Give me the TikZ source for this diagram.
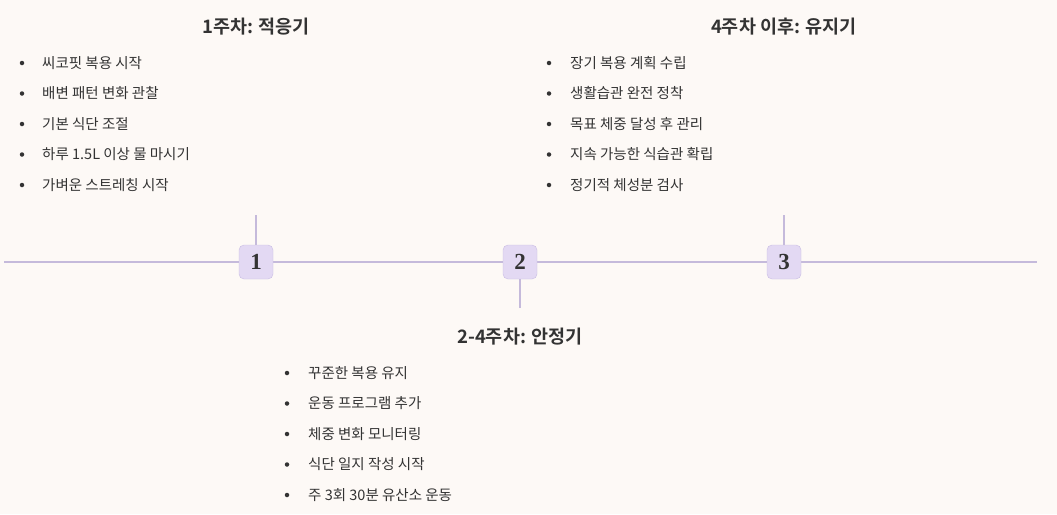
\documentclass[tikz,border=0pt]{standalone}
\usepackage{fontspec}
\newfontfamily\kr{Noto Sans CJK KR}
\newfontfamily\krb{Noto Sans CJK KR Bold}
\setmainfont{Liberation Serif}
\definecolor{bg}{HTML}{FDF9F6}
\definecolor{ln}{HTML}{C5BADB}
\definecolor{bx}{HTML}{E3D9F3}
\definecolor{bxd}{HTML}{C9BDE3}
\definecolor{tx}{HTML}{333333}
\tikzset{
  mk/.style={draw=bxd,fill=bx,rounded corners=5pt,minimum size=34pt,inner sep=0pt,font=\bfseries\fontsize{23}{23}\selectfont,text=tx},
  hd/.style={font=\krb\fontsize{18.5}{18.5}\selectfont,text=tx},
  it/.style={anchor=west,font=\kr\fontsize{14.5}{14.5}\selectfont,text=tx,inner sep=0pt},
  bl/.style={circle,fill=tx,inner sep=0pt,minimum size=4.5pt},
  stem/.style={draw=ln,line width=1.2pt}
}
\begin{document}
\begin{tikzpicture}[x=1pt,y=-1pt]
\fill[bg] (0,0) rectangle (1057,514);
\useasboundingbox (0,0) rectangle (1057,514);
\coordinate (L) at (4,262);
\coordinate (R) at (1037,262);
\draw[stem] (L) -- (R);
\node[mk] (m1) at (256,262) {1};
\node[mk] (m2) at (520,262) {2};
\node[mk] (m3) at (784,262) {3};
\coordinate (s1) at (256,215);
\coordinate (s2) at (520,308);
\coordinate (s3) at (784,215);
\draw[stem] (s1) -- (m1.north);
\draw[stem] (s2) -- (m2.south);
\draw[stem] (s3) -- (m3.north);
\node[hd] (h1) at (256,27) {1주차: 적응기};
\node[hd] (h3) at (784,27) {4주차 이후: 유지기};
\node[hd] (h2) at (520,337) {2-4주차: 안정기};
\foreach \t [count=\i] in {씨코핏 복용 시작,배변 패턴 변화 관찰,기본 식단 조절,하루 1.5L 이상 물 마시기,가벼운 스트레칭 시작}{
  \pgfmathsetmacro\yy{63+30.5*(\i-1)}
  \node[bl] (a\i) at (22,\yy) {};
  \node[it] (at\i) at (42,\yy) {\t};
}
\foreach \t [count=\i] in {꾸준한 복용 유지,운동 프로그램 추가,체중 변화 모니터링,식단 일지 작성 시작,주 3회 30분 유산소 운동}{
  \pgfmathsetmacro\yy{373+30.5*(\i-1)}
  \node[bl] (b\i) at (287,\yy) {};
  \node[it] (bt\i) at (308,\yy) {\t};
}
\foreach \t [count=\i] in {장기 복용 계획 수립,생활습관 완전 정착,목표 체중 달성 후 관리,지속 가능한 식습관 확립,정기적 체성분 검사}{
  \pgfmathsetmacro\yy{63+30.5*(\i-1)}
  \node[bl] (c\i) at (549,\yy) {};
  \node[it] (ct\i) at (570,\yy) {\t};
}
\end{tikzpicture}
\end{document}
